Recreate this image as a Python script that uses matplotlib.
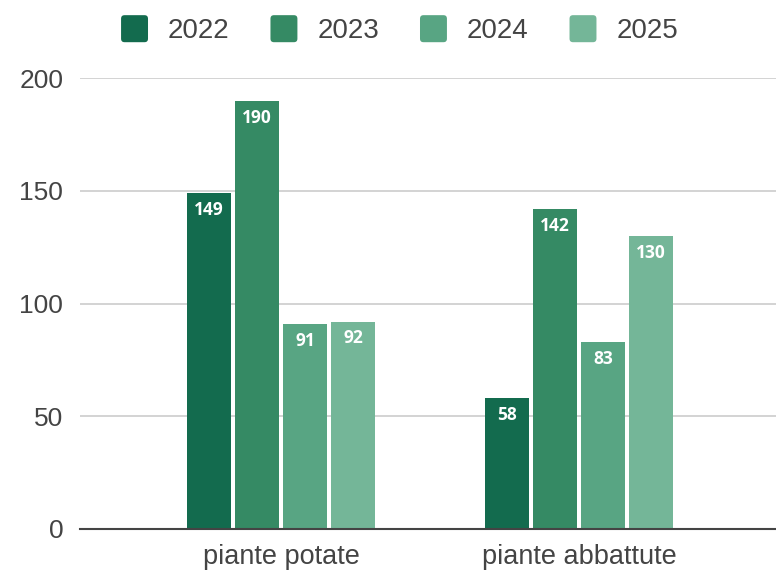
import matplotlib
matplotlib.use("Agg")
import matplotlib.pyplot as plt
import numpy as np
from matplotlib.container import BarContainer
from matplotlib.legend_handler import HandlerPatch
from matplotlib.patches import FancyBboxPatch

categories = ["piante potate", "piante abbattute"]
years = ["2022", "2023", "2024", "2025"]
values_2022 = [149, 58]
values_2023 = [190, 142]
values_2024 = [91, 83]
values_2025 = [92, 130]
colors = ["#136b4e", "#358a64", "#58a583", "#74b698"]

series = [values_2022, values_2023, values_2024, values_2025]


# rounded square legend keys
class RoundSquare(HandlerPatch):
    def create_artists(self, legend, orig_handle, xdescent, ydescent, width, height, fontsize, trans):
        col = orig_handle[0].get_facecolor()
        p = FancyBboxPatch((-xdescent, -ydescent), width, height,
                           boxstyle="round,pad=0,rounding_size=2.5",
                           facecolor=col, edgecolor='none', transform=trans)
        return [p]


plt.rcParams['font.family'] = ['Liberation Sans', 'DejaVu Sans']

fig = plt.figure(figsize=(7.76, 5.70), dpi=100)
ax = fig.add_axes([0.103, 0.072, 0.897, 0.791])

x = np.arange(len(categories))
width = 0.148
step = 0.161
for i, (vals, col) in enumerate(zip(series, colors)):
    pos = x + (i - 1.5) * step
    bars = ax.bar(pos, vals, width=width, color=col, label=years[i], zorder=3)
    for b, v in zip(bars, vals):
        ax.text(b.get_x() + b.get_width() / 2, v - 3.5, str(v), ha='center', va='top',
                color='white', fontsize=12.5, fontweight='bold', family=['Open Sans', 'DejaVu Sans'],
                zorder=4)

ax.set_xlim(-0.675, 1.66)
ax.set_ylim(0, 200)
ax.set_yticks([0, 50, 100, 150, 200])
ax.set_xticks(x)
ax.set_xticklabels(categories)
ax.grid(axis='y', color='#cccccc', linewidth=1.2, zorder=0)
ax.set_axisbelow(True)
for s in ['top', 'right', 'left']:
    ax.spines[s].set_visible(False)
ax.spines['bottom'].set_color('#444444')
ax.spines['bottom'].set_linewidth(1.5)
ax.spines['bottom'].set_zorder(5)
ax.tick_params(axis='both', length=0, colors='#444444')
ax.tick_params(axis='y', pad=12, labelsize=19)
ax.tick_params(axis='x', pad=11, labelsize=19.5)

leg = fig.legend(loc='center', bbox_to_anchor=(0.515, 0.948), ncol=4, frameon=False,
                 fontsize=20, handlelength=0.97, handleheight=1.12, columnspacing=1.47,
                 handletextpad=0.72, handler_map={BarContainer: RoundSquare()})
for t in leg.get_texts():
    t.set_color('#444444')

fig.savefig("out.png", dpi=100)
